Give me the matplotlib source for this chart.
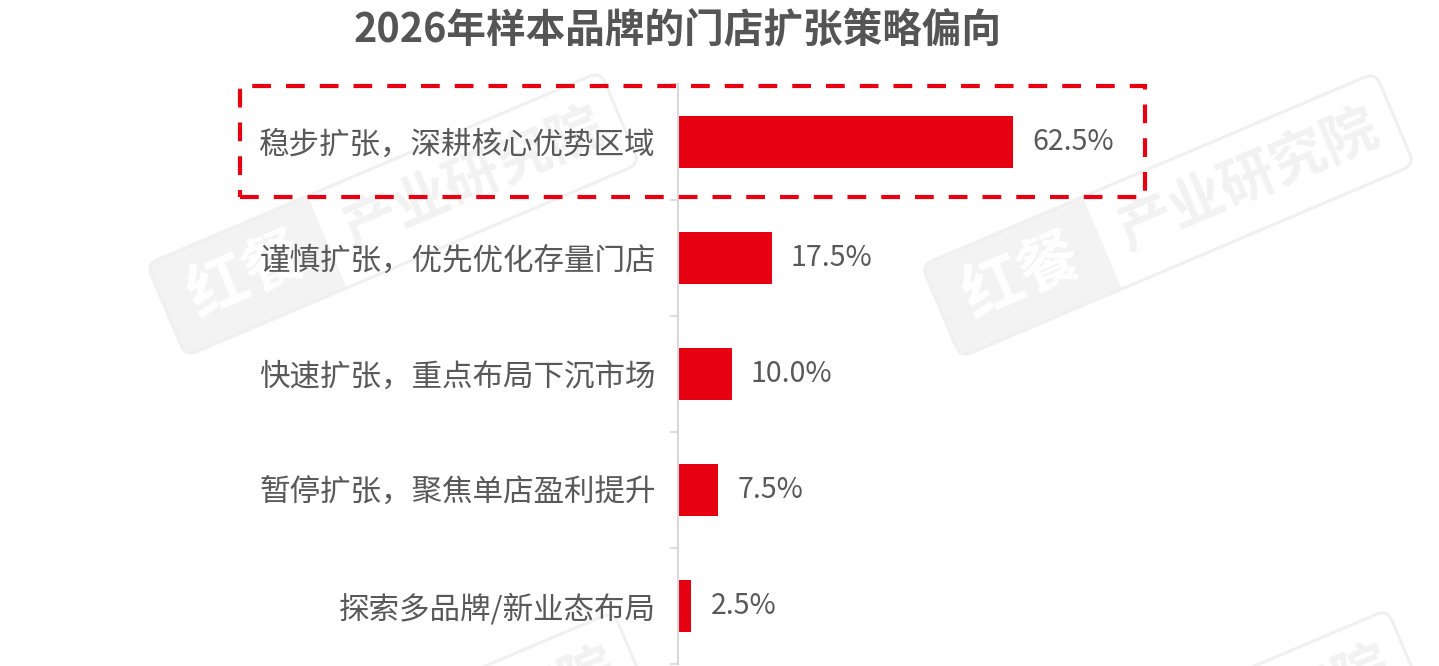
import numpy as np
import matplotlib
matplotlib.use("Agg")
import matplotlib.pyplot as plt
from matplotlib.patches import FancyBboxPatch, Rectangle
from matplotlib.transforms import Affine2D

plt.rcParams['font.family'] = ['Noto Sans CJK SC', 'DejaVu Sans']

# data
title = "2026年样本品牌的门店扩张策略偏向"
categories = ["稳步扩张，深耕核心优势区域",
              "谨慎扩张，优先优化存量门店",
              "快速扩张，重点布局下沉市场",
              "暂停扩张，聚焦单店盈利提升",
              "探索多品牌/新业态布局"]
shares = [62.5, 17.5, 10.0, 7.5, 2.5]

RED = '#e60012'
TXT = '#595959'
W, H = 1439, 666


def px(x, y):
    # image pixel -> inches from bottom left
    return x / 100, (H - y) / 100


def watermark(fig, cx, cy):
    tr = Affine2D().rotate_deg(23).translate(*px(cx, cy)) + fig.dpi_scale_trans
    L, h, g = 4.93, 1.0, 1.75
    box = FancyBboxPatch((-L / 2, -h / 2), L, h,
                         boxstyle='round,pad=0,rounding_size=0.12',
                         fc='none', ec='#f0f0f0', lw=2.2,
                         transform=tr, zorder=-5)
    fig.add_artist(box)
    grey = Rectangle((-L / 2, -h / 2), g, h, fc='#f3f3f3', ec='none',
                     transform=tr, zorder=-6)
    fig.add_artist(grey)
    grey.set_clip_path(box)
    fig.text(-L / 2 + g / 2, 0, "红餐", transform=tr, rotation=23,
             rotation_mode='anchor', ha='center', va='center',
             fontsize=44, fontweight='bold', color='white', zorder=-4)
    fig.text(-L / 2 + g + (L - g) / 2, 0, "产业研究院", transform=tr,
             rotation=23, rotation_mode='anchor', ha='center', va='center',
             fontsize=40, fontweight='bold', color='#f2f2f2', zorder=-4)


fig = plt.figure(figsize=(W / 100, H / 100), dpi=100)

# watermarks, the bottom row is cut by the edge like in the source
for c in [(393, 214), (1168, 215), (406, 754), (1180, 752)]:
    watermark(fig, *c)

ax = fig.add_axes([678 / W, (H - 664) / H, 1 - 678 / W, 580 / H])
ax.set_facecolor('none')

y = np.arange(len(categories))
ax.barh(y, shares, height=0.44, color=RED, zorder=2)
for i, v in enumerate(shares):
    ax.text(v + 19 / 5.36, i, f"{v:.1f}%", va='center', ha='left',
            fontsize=20.5, color=TXT)

ax.set_xlim(0, (W - 678) / 5.36)
ax.set_ylim(4.5, -0.5)
ax.set_yticks(y)
ax.set_yticklabels(categories, fontsize=22, color=TXT)
ax.set_yticks(np.arange(-0.5, len(categories), 1), minor=True)
ax.tick_params(axis='y', which='major', length=0, pad=16)
ax.tick_params(axis='y', which='minor', length=6, width=1.2, color='#d9d9d9')
ax.set_xticks([])
for s in ['top', 'right', 'bottom']:
    ax.spines[s].set_visible(False)
ax.spines['left'].set_color('#d9d9d9')
ax.spines['left'].set_linewidth(1.5)

# highlight box around first row
x0, y0 = px(240, 197)
frame = Rectangle((x0, y0), (1145 - 240) / 100, (197 - 86) / 100,
                  transform=fig.dpi_scale_trans, fill=False, ec=RED,
                  lw=3, linestyle=(0, (4.5, 3.6)), zorder=5)
fig.add_artist(frame)

fig.text(678 / W, 1 - 30 / H, title, ha='center', va='center',
         fontsize=28.5, fontweight='bold', color='#555555')

fig.savefig("out.png", dpi=100)
